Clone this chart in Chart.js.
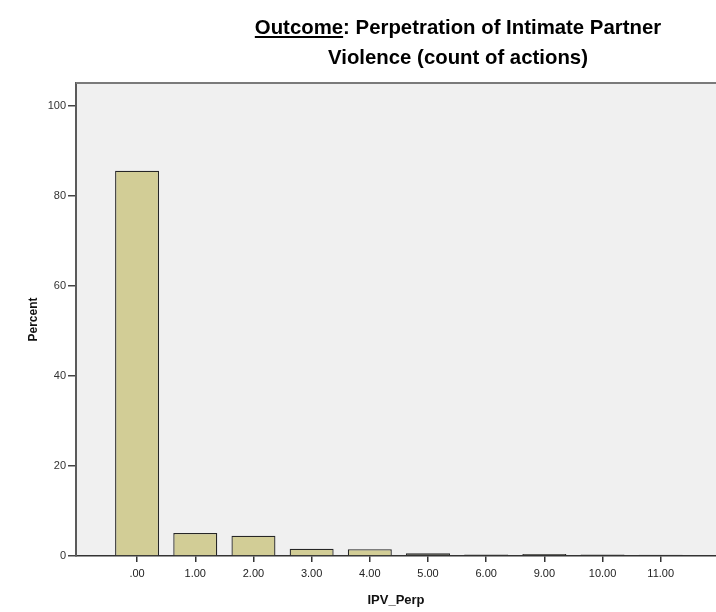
<!DOCTYPE html>
<html>
<head>
<meta charset="utf-8">
<script src="https://cdn.jsdelivr.net/npm/chart.js@4/dist/chart.umd.min.js"></script>
<style>
  html, body { margin: 0; padding: 0; background: #ffffff; }
  #wrap { width: 716px; height: 612px; position: relative; }
</style>
</head>
<body>
<div id="wrap"><canvas id="c" width="716" height="612"></canvas></div>
<script>
// ---- data ----
const categories = ['.00', '1.00', '2.00', '3.00', '4.00', '5.00', '6.00', '9.00', '10.00', '11.00'];
const percentValues = [85.6, 5.1, 4.5, 1.6, 1.5, 0.6, 0.35, 0.45, 0.35, 0.3];
const yTickValues = [0, 20, 40, 60, 80, 100];
const titleUnderlined = 'Outcome';
const titleRest = ': Perpetration of Intimate Partner';
const titleLine2 = 'Violence (count of actions)';
const xAxisTitle = 'IPV_Perp';
const yAxisTitle = 'Percent';

const FONT = '"Liberation Sans", Arial, sans-serif';

const plotDecor = {
  id: 'plotDecor',
  beforeDraw(chart) {
    const { ctx, chartArea: a } = chart;
    ctx.save();
    ctx.fillStyle = '#ffffff';
    ctx.fillRect(0, 0, chart.width, chart.height);
    ctx.fillStyle = '#f0f0f0';
    ctx.fillRect(a.left, a.top, a.right - a.left, a.bottom - a.top);
    ctx.restore();
  },
  afterDraw(chart) {
    const { ctx, chartArea: a } = chart;
    ctx.save();
    // top frame line
    ctx.strokeStyle = '#7a7a7a';
    ctx.lineWidth = 2;
    ctx.beginPath();
    ctx.moveTo(a.left, a.top);
    ctx.lineTo(a.right, a.top);
    ctx.stroke();
    // title
    const cx = 458, sx = 0.97;
    ctx.fillStyle = '#000000';
    ctx.font = 'bold 21px ' + FONT;
    ctx.textBaseline = 'alphabetic';
    ctx.textAlign = 'left';
    const w1 = ctx.measureText(titleUnderlined).width;
    const w2 = ctx.measureText(titleRest).width;
    const w3 = ctx.measureText(titleLine2).width;
    ctx.translate(cx, 0);
    ctx.scale(sx, 1);
    const x1 = -(w1 + w2) / 2;
    const y1 = 34;
    ctx.fillText(titleUnderlined, x1, y1);
    ctx.fillText(titleRest, x1 + w1, y1);
    ctx.fillRect(x1, y1 + 2, w1, 2);
    ctx.fillText(titleLine2, -w3 / 2, 64);
    ctx.restore();
  }
};

new Chart(document.getElementById('c'), {
  type: 'bar',
  data: {
    datasets: [{
      data: percentValues.map((v, i) => ({ x: i, y: v })),
      backgroundColor: c => (c.raw && c.raw.y < 1 ? '#3c3c34' : '#d2cd96'),
      borderColor: '#262626',
      borderWidth: 1.3,
      borderSkipped: 'bottom',
      barPercentage: 0.756,
      categoryPercentage: 1.0
    }]
  },
  options: {
    responsive: false,
    animation: false,
    devicePixelRatio: 1,
    layout: { padding: { top: 83, right: 0, bottom: 0, left: 0 } },
    plugins: { legend: { display: false }, tooltip: { enabled: false }, title: { display: false } },
    scales: {
      x: {
        type: 'linear',
        offset: false,
        z: -1,
        min: -1.05,
        max: 9.95,
        afterBuildTicks: s => { s.ticks = categories.map((c, i) => ({ value: i })); },
        afterFit: s => { s.height = 56; },
        ticks: {
          callback: v => categories[v],
          font: { family: FONT, size: 11 },
          color: '#222222',
          padding: 5,
          maxRotation: 0,
          autoSkip: false
        },
        grid: { offset: false, drawOnChartArea: false, drawTicks: true, tickLength: 6, color: '#333333', lineWidth: 1.5 },
        border: { display: true, color: '#333333', width: 1.5 },
        title: {
          display: true, text: xAxisTitle, color: '#111111',
          font: { family: FONT, size: 13, weight: 'bold' },
          padding: { top: 0, bottom: 4 }
        }
      },
      y: {
        min: 0,
        max: 105.1,
        afterBuildTicks: s => { s.ticks = yTickValues.map(v => ({ value: v })); },
        afterFit: s => { s.width = 76; },
        ticks: {
          font: { family: FONT, size: 11 },
          color: '#333333',
          padding: 2
        },
        grid: { drawOnChartArea: false, drawTicks: true, tickLength: 8, color: '#444444', lineWidth: 1.5 },
        border: { display: true, color: '#5a5a5a', width: 2 },
        title: {
          display: true, text: yAxisTitle, color: '#111111',
          font: { family: FONT, size: 12, weight: 'bold' },
          padding: { top: 26, bottom: 0 }
        }
      }
    }
  },
  plugins: [plotDecor]
});
</script>
</body>
</html>
